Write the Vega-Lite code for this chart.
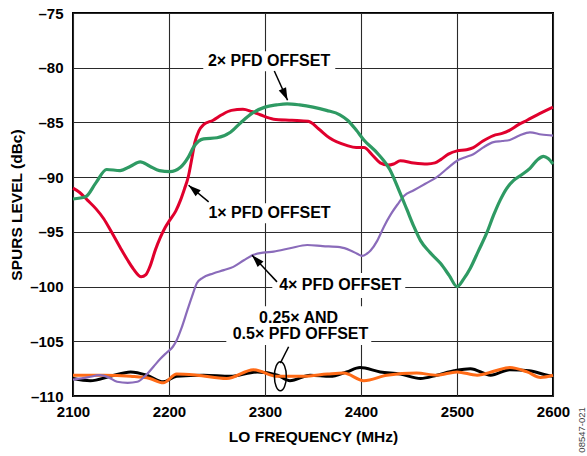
{
  "$schema": "https://vega.github.io/schema/vega-lite/v6.json",
  "width": 480,
  "height": 383,
  "autosize": {"type": "none"},
  "padding": {"left": 73, "top": 13, "right": 34, "bottom": 60},
  "background": "white",
  "datasets": {
    "curves": [
      {"series": "2x", "x": 2100, "y": -92.0}, {"series": "2x", "x": 2113, "y": -91.8}, {"series": "2x", "x": 2124, "y": -90.5}, {"series": "2x", "x": 2135, "y": -89.3}, {"series": "2x", "x": 2149, "y": -89.4}, {"series": "2x", "x": 2160, "y": -89.0}, {"series": "2x", "x": 2170, "y": -88.6}, {"series": "2x", "x": 2180, "y": -89.0}, {"series": "2x", "x": 2190, "y": -89.4}, {"series": "2x", "x": 2201, "y": -89.5}, {"series": "2x", "x": 2212, "y": -89.1}, {"series": "2x", "x": 2220, "y": -88.2}, {"series": "2x", "x": 2226, "y": -87.2}, {"series": "2x", "x": 2236, "y": -86.5}, {"series": "2x", "x": 2250, "y": -86.4}, {"series": "2x", "x": 2264, "y": -85.9}, {"series": "2x", "x": 2275, "y": -85.0}, {"series": "2x", "x": 2286, "y": -84.2}, {"series": "2x", "x": 2300, "y": -83.6}, {"series": "2x", "x": 2312, "y": -83.4}, {"series": "2x", "x": 2323, "y": -83.3}, {"series": "2x", "x": 2336, "y": -83.4}, {"series": "2x", "x": 2350, "y": -83.6}, {"series": "2x", "x": 2364, "y": -83.9}, {"series": "2x", "x": 2378, "y": -84.3}, {"series": "2x", "x": 2386, "y": -84.8}, {"series": "2x", "x": 2395, "y": -85.7}, {"series": "2x", "x": 2403, "y": -86.6}, {"series": "2x", "x": 2418, "y": -87.9}, {"series": "2x", "x": 2430, "y": -89.3}, {"series": "2x", "x": 2440, "y": -91.3}, {"series": "2x", "x": 2448, "y": -93.0}, {"series": "2x", "x": 2455, "y": -94.5}, {"series": "2x", "x": 2462, "y": -95.8}, {"series": "2x", "x": 2472, "y": -96.9}, {"series": "2x", "x": 2483, "y": -97.9}, {"series": "2x", "x": 2492, "y": -99.0}, {"series": "2x", "x": 2500, "y": -100.0}, {"series": "2x", "x": 2507, "y": -99.3}, {"series": "2x", "x": 2514, "y": -98.3}, {"series": "2x", "x": 2522, "y": -96.8}, {"series": "2x", "x": 2531, "y": -95.1}, {"series": "2x", "x": 2538, "y": -93.5}, {"series": "2x", "x": 2545, "y": -92.1}, {"series": "2x", "x": 2552, "y": -91.0}, {"series": "2x", "x": 2559, "y": -90.3}, {"series": "2x", "x": 2567, "y": -89.8}, {"series": "2x", "x": 2576, "y": -89.2}, {"series": "2x", "x": 2584, "y": -88.4}, {"series": "2x", "x": 2590, "y": -88.1}, {"series": "2x", "x": 2595, "y": -88.3}, {"series": "2x", "x": 2600, "y": -88.8},

      {"series": "1x", "x": 2100, "y": -91.0}, {"series": "1x", "x": 2107, "y": -91.4}, {"series": "1x", "x": 2115, "y": -92.1}, {"series": "1x", "x": 2124, "y": -92.9}, {"series": "1x", "x": 2132, "y": -93.8}, {"series": "1x", "x": 2140, "y": -95.0}, {"series": "1x", "x": 2149, "y": -96.4}, {"series": "1x", "x": 2157, "y": -97.6}, {"series": "1x", "x": 2163, "y": -98.4}, {"series": "1x", "x": 2171, "y": -99.1}, {"series": "1x", "x": 2176, "y": -98.9}, {"series": "1x", "x": 2180, "y": -98.2}, {"series": "1x", "x": 2186, "y": -96.6}, {"series": "1x", "x": 2191, "y": -95.5}, {"series": "1x", "x": 2196, "y": -94.6}, {"series": "1x", "x": 2201, "y": -93.9}, {"series": "1x", "x": 2207, "y": -93.1}, {"series": "1x", "x": 2212, "y": -92.1}, {"series": "1x", "x": 2216, "y": -91.1}, {"series": "1x", "x": 2220, "y": -90.0}, {"series": "1x", "x": 2224, "y": -88.2}, {"series": "1x", "x": 2227, "y": -86.8}, {"series": "1x", "x": 2231, "y": -85.8}, {"series": "1x", "x": 2236, "y": -85.2}, {"series": "1x", "x": 2246, "y": -84.8}, {"series": "1x", "x": 2255, "y": -84.3}, {"series": "1x", "x": 2265, "y": -83.9}, {"series": "1x", "x": 2277, "y": -83.8}, {"series": "1x", "x": 2286, "y": -84.0}, {"series": "1x", "x": 2295, "y": -84.3}, {"series": "1x", "x": 2309, "y": -84.7}, {"series": "1x", "x": 2328, "y": -84.8}, {"series": "1x", "x": 2345, "y": -84.9}, {"series": "1x", "x": 2356, "y": -85.6}, {"series": "1x", "x": 2367, "y": -86.4}, {"series": "1x", "x": 2385, "y": -87.1}, {"series": "1x", "x": 2395, "y": -87.3}, {"series": "1x", "x": 2403, "y": -87.3}, {"series": "1x", "x": 2412, "y": -88.0}, {"series": "1x", "x": 2420, "y": -88.7}, {"series": "1x", "x": 2428, "y": -88.9}, {"series": "1x", "x": 2434, "y": -88.8}, {"series": "1x", "x": 2441, "y": -88.5}, {"series": "1x", "x": 2455, "y": -88.7}, {"series": "1x", "x": 2469, "y": -88.8}, {"series": "1x", "x": 2477, "y": -88.7}, {"series": "1x", "x": 2483, "y": -88.4}, {"series": "1x", "x": 2491, "y": -87.9}, {"series": "1x", "x": 2500, "y": -87.6}, {"series": "1x", "x": 2510, "y": -87.5}, {"series": "1x", "x": 2517, "y": -87.3}, {"series": "1x", "x": 2527, "y": -86.7}, {"series": "1x", "x": 2538, "y": -86.2}, {"series": "1x", "x": 2547, "y": -86.0}, {"series": "1x", "x": 2555, "y": -85.7}, {"series": "1x", "x": 2564, "y": -85.2}, {"series": "1x", "x": 2573, "y": -84.8}, {"series": "1x", "x": 2586, "y": -84.2}, {"series": "1x", "x": 2600, "y": -83.6},

      {"series": "4x", "x": 2100, "y": -108.5}, {"series": "4x", "x": 2115, "y": -108.3}, {"series": "4x", "x": 2128, "y": -108.1}, {"series": "4x", "x": 2137, "y": -108.3}, {"series": "4x", "x": 2146, "y": -108.7}, {"series": "4x", "x": 2157, "y": -108.8}, {"series": "4x", "x": 2167, "y": -108.7}, {"series": "4x", "x": 2176, "y": -108.1}, {"series": "4x", "x": 2184, "y": -107.3}, {"series": "4x", "x": 2191, "y": -106.6}, {"series": "4x", "x": 2198, "y": -106.0}, {"series": "4x", "x": 2204, "y": -105.5}, {"series": "4x", "x": 2208, "y": -104.9}, {"series": "4x", "x": 2213, "y": -103.8}, {"series": "4x", "x": 2219, "y": -102.2}, {"series": "4x", "x": 2224, "y": -100.9}, {"series": "4x", "x": 2229, "y": -99.7}, {"series": "4x", "x": 2235, "y": -99.2}, {"series": "4x", "x": 2246, "y": -98.8}, {"series": "4x", "x": 2257, "y": -98.5}, {"series": "4x", "x": 2267, "y": -98.2}, {"series": "4x", "x": 2278, "y": -97.6}, {"series": "4x", "x": 2288, "y": -97.1}, {"series": "4x", "x": 2298, "y": -96.9}, {"series": "4x", "x": 2309, "y": -96.8}, {"series": "4x", "x": 2326, "y": -96.5}, {"series": "4x", "x": 2344, "y": -96.2}, {"series": "4x", "x": 2360, "y": -96.3}, {"series": "4x", "x": 2378, "y": -96.4}, {"series": "4x", "x": 2389, "y": -96.7}, {"series": "4x", "x": 2396, "y": -97.0}, {"series": "4x", "x": 2401, "y": -97.2}, {"series": "4x", "x": 2406, "y": -97.0}, {"series": "4x", "x": 2410, "y": -96.7}, {"series": "4x", "x": 2417, "y": -95.8}, {"series": "4x", "x": 2424, "y": -94.5}, {"series": "4x", "x": 2431, "y": -93.4}, {"series": "4x", "x": 2438, "y": -92.5}, {"series": "4x", "x": 2445, "y": -91.7}, {"series": "4x", "x": 2455, "y": -91.2}, {"series": "4x", "x": 2467, "y": -90.6}, {"series": "4x", "x": 2479, "y": -90.0}, {"series": "4x", "x": 2490, "y": -89.2}, {"series": "4x", "x": 2500, "y": -88.5}, {"series": "4x", "x": 2508, "y": -88.2}, {"series": "4x", "x": 2517, "y": -87.9}, {"series": "4x", "x": 2527, "y": -87.3}, {"series": "4x", "x": 2538, "y": -86.8}, {"series": "4x", "x": 2547, "y": -86.7}, {"series": "4x", "x": 2555, "y": -86.6}, {"series": "4x", "x": 2565, "y": -86.2}, {"series": "4x", "x": 2576, "y": -85.9}, {"series": "4x", "x": 2588, "y": -86.1}, {"series": "4x", "x": 2600, "y": -86.2},

      {"series": "0.25x", "x": 2100, "y": -108.4}, {"series": "0.25x", "x": 2118, "y": -108.6}, {"series": "0.25x", "x": 2139, "y": -108.2}, {"series": "0.25x", "x": 2160, "y": -107.8}, {"series": "0.25x", "x": 2177, "y": -108.1}, {"series": "0.25x", "x": 2194, "y": -108.7}, {"series": "0.25x", "x": 2208, "y": -108.2}, {"series": "0.25x", "x": 2236, "y": -108.1}, {"series": "0.25x", "x": 2264, "y": -108.2}, {"series": "0.25x", "x": 2292, "y": -107.8}, {"series": "0.25x", "x": 2313, "y": -108.1}, {"series": "0.25x", "x": 2326, "y": -108.6}, {"series": "0.25x", "x": 2347, "y": -108.1}, {"series": "0.25x", "x": 2368, "y": -108.2}, {"series": "0.25x", "x": 2385, "y": -107.8}, {"series": "0.25x", "x": 2399, "y": -107.4}, {"series": "0.25x", "x": 2420, "y": -107.8}, {"series": "0.25x", "x": 2441, "y": -108.0}, {"series": "0.25x", "x": 2462, "y": -108.4}, {"series": "0.25x", "x": 2479, "y": -108.1}, {"series": "0.25x", "x": 2497, "y": -107.7}, {"series": "0.25x", "x": 2514, "y": -107.5}, {"series": "0.25x", "x": 2535, "y": -108.1}, {"series": "0.25x", "x": 2555, "y": -107.6}, {"series": "0.25x", "x": 2575, "y": -107.7}, {"series": "0.25x", "x": 2594, "y": -108.1}, {"series": "0.25x", "x": 2600, "y": -108.2},

      {"series": "0.5x", "x": 2100, "y": -108.1}, {"series": "0.5x", "x": 2132, "y": -108.1}, {"series": "0.5x", "x": 2160, "y": -108.2}, {"series": "0.5x", "x": 2180, "y": -108.4}, {"series": "0.5x", "x": 2194, "y": -108.8}, {"series": "0.5x", "x": 2208, "y": -108.0}, {"series": "0.5x", "x": 2229, "y": -108.1}, {"series": "0.5x", "x": 2260, "y": -108.4}, {"series": "0.5x", "x": 2288, "y": -107.6}, {"series": "0.5x", "x": 2313, "y": -108.2}, {"series": "0.5x", "x": 2340, "y": -108.2}, {"series": "0.5x", "x": 2365, "y": -108.0}, {"series": "0.5x", "x": 2382, "y": -107.9}, {"series": "0.5x", "x": 2403, "y": -108.6}, {"series": "0.5x", "x": 2427, "y": -108.1}, {"series": "0.5x", "x": 2458, "y": -107.9}, {"series": "0.5x", "x": 2479, "y": -108.1}, {"series": "0.5x", "x": 2500, "y": -107.8}, {"series": "0.5x", "x": 2521, "y": -108.1}, {"series": "0.5x", "x": 2540, "y": -107.7}, {"series": "0.5x", "x": 2555, "y": -107.4}, {"series": "0.5x", "x": 2573, "y": -107.8}, {"series": "0.5x", "x": 2587, "y": -108.3}, {"series": "0.5x", "x": 2600, "y": -108.1}
    ],
    "boxes": [
      {"x": 2235.7, "x2": 2373.2, "y": -78.5, "y2": -80.32},
      {"x": 2236.8, "x2": 2372.2, "y": -92.38, "y2": -94.21},
      {"x": 2307.6, "x2": 2446.1, "y": -98.77, "y2": -101.05},
      {"x": 2259.7, "x2": 2410.7, "y": -101.8, "y2": -105.35}
    ],
    "arrows": [
      {"id": "1x", "x": 2241.3, "y": -92.26, "x2": 2220.4, "y2": -90.74},
      {"id": "2x", "x": 2309.7, "y": -80.3, "x2": 2323.5, "y2": -82.97},
      {"id": "4x", "x": 2312.5, "y": -99.57, "x2": 2286.5, "y2": -97.13},
      {"id": "ring", "x": 2316.0, "y": -107.0, "x2": 2324.6, "y2": -105.5}
    ],
    "ring": [{"x": 2316.0, "y": -108.2}],
    "labels": [
      {"x": 2304.2, "y": -79.41, "text": "2× PFD OFFSET"},
      {"x": 2304.7, "y": -93.32, "text": "1× PFD OFFSET"},
      {"x": 2378.4, "y": -99.89, "text": "4× PFD OFFSET"},
      {"x": 2335.0, "y": -102.91, "text": "0.25× AND"},
      {"x": 2337.0, "y": -104.36, "text": "0.5× PFD OFFSET"}
    ],
    "note": [{"x": 2630.5, "y": -113.1, "text": "08547-021"}]
  },
  "encoding": {
    "x": {
      "field": "x", "type": "quantitative",
      "scale": {"domain": [2100, 2600], "nice": false, "zero": false},
      "axis": {"title": "LO FREQUENCY (MHz)", "values": [2100, 2200, 2300, 2400, 2500, 2600], "format": "d", "labelPadding": 8, "titlePadding": 10, "labelFlush": false, "labelOverlap": false}
    },
    "y": {
      "field": "y", "type": "quantitative",
      "scale": {"domain": [-110, -75], "nice": false, "zero": false},
      "axis": {"title": "SPURS LEVEL (dBc)", "values": [-110, -105, -100, -95, -90, -85, -80, -75], "labelExpr": "datum.value < 0 ? '–' + abs(datum.value) : '' + datum.value", "labelPadding": 10, "titlePadding": 5, "labelFlush": false, "labelOverlap": false}
    }
  },
  "layer": [
    {
      "data": {"name": "boxes"},
      "mark": {"type": "rect", "fill": "white", "stroke": null},
      "encoding": {"x2": {"field": "x2"}, "y2": {"field": "y2"}}
    },
    {
      "data": {"name": "curves"},
      "transform": [{"filter": "datum.series === '0.25x'"}],
      "mark": {"type": "line", "color": "#000000", "strokeWidth": 3, "interpolate": "monotone"},
      "encoding": {}
    },
    {
      "data": {"name": "curves"},
      "transform": [{"filter": "datum.series === '0.5x'"}],
      "mark": {"type": "line", "color": "#FF6B17", "strokeWidth": 3, "interpolate": "monotone"},
      "encoding": {}
    },
    {
      "data": {"name": "curves"},
      "transform": [{"filter": "datum.series === '4x'"}],
      "mark": {"type": "line", "color": "#8A6BBA", "strokeWidth": 2.2, "interpolate": "monotone"},
      "encoding": {}
    },
    {
      "data": {"name": "curves"},
      "transform": [{"filter": "datum.series === '1x'"}],
      "mark": {"type": "line", "color": "#E0002D", "strokeWidth": 3, "interpolate": "monotone"},
      "encoding": {}
    },
    {
      "data": {"name": "curves"},
      "transform": [{"filter": "datum.series === '2x'"}],
      "mark": {"type": "line", "color": "#2E9A63", "strokeWidth": 3.2, "interpolate": "monotone"},
      "encoding": {}
    },
    {
      "data": {"name": "arrows"},
      "mark": {"type": "rule", "color": "#000", "strokeWidth": 1.5},
      "encoding": {"x2": {"field": "x2"}, "y2": {"field": "y2"}}
    },
    {
      "data": {"name": "arrows"},
      "transform": [{"filter": "datum.id === '1x'"}],
      "mark": {"type": "point", "shape": "M0,0L-0.32,1L0.32,1Z", "filled": true, "color": "#000", "opacity": 1, "size": 625, "angle": 310},
      "encoding": {"x": {"field": "x2", "type": "quantitative"}, "y": {"field": "y2", "type": "quantitative"}}
    },
    {
      "data": {"name": "arrows"},
      "transform": [{"filter": "datum.id === '2x'"}],
      "mark": {"type": "point", "shape": "M0,0L-0.32,1L0.32,1Z", "filled": true, "color": "#000", "opacity": 1, "size": 625, "angle": 155.6},
      "encoding": {"x": {"field": "x2", "type": "quantitative"}, "y": {"field": "y2", "type": "quantitative"}}
    },
    {
      "data": {"name": "arrows"},
      "transform": [{"filter": "datum.id === '4x'"}],
      "mark": {"type": "point", "shape": "M0,0L-0.32,1L0.32,1Z", "filled": true, "color": "#000", "opacity": 1, "size": 625, "angle": 317},
      "encoding": {"x": {"field": "x2", "type": "quantitative"}, "y": {"field": "y2", "type": "quantitative"}}
    },
    {
      "data": {"name": "ring"},
      "mark": {"type": "point", "shape": "M0,-1A0.41,1,0,1,1,0,1A0.41,1,0,1,1,0,-1Z", "filled": false, "stroke": "#000", "strokeWidth": 1.5, "opacity": 1, "size": 841},
      "encoding": {}
    },
    {
      "data": {"name": "labels"},
      "mark": {"type": "text", "font": "Liberation Sans", "fontWeight": "bold", "fontSize": 16, "color": "#000", "align": "center", "baseline": "middle"},
      "encoding": {"text": {"field": "text"}}
    },
    {
      "data": {"name": "note"},
      "mark": {"type": "text", "font": "Liberation Sans", "fontSize": 9.5, "color": "#444", "align": "center", "baseline": "middle", "angle": 270},
      "encoding": {"text": {"field": "text"}}
    }
  ],
  "config": {
    "view": {"stroke": "#000", "strokeWidth": 2},
    "axis": {
      "grid": true, "gridColor": "#2a2a2a", "gridWidth": 1.1, "gridOpacity": 1,
      "ticks": false, "domain": false,
      "labelFont": "Liberation Sans", "labelFontWeight": "bold", "labelFontSize": 15, "labelColor": "#000",
      "titleFont": "Liberation Sans", "titleFontWeight": "bold", "titleFontSize": 15.5, "titleColor": "#000"
    }
  }
}
